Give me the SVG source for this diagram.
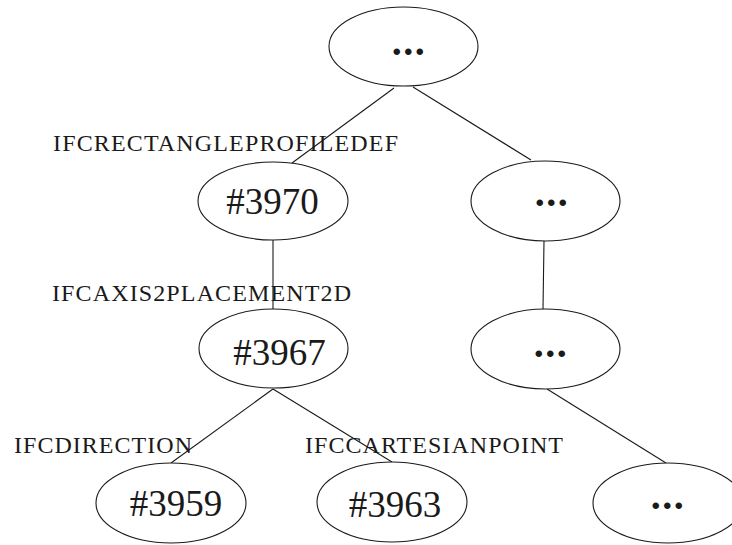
<svg xmlns="http://www.w3.org/2000/svg" width="732" height="545" viewBox="0 0 732 545">
  <style>
    .node ellipse { fill: #ffffff; stroke: #1a1a1a; stroke-width: 1.1; }
    .edges line { stroke: #1a1a1a; stroke-width: 1.1; }
    .id { font-family: "Liberation Serif", "Times New Roman", serif; font-size: 37px; fill: #1a1a1a; }
    .dots { font-family: "Liberation Serif", "Times New Roman", serif; font-size: 40px; font-weight: bold; fill: #1a1a1a; letter-spacing: 1.5px; }
    .label { font-family: "Liberation Serif", "Times New Roman", serif; font-size: 24px; fill: #1a1a1a; }
  </style>
  <rect width="732" height="545" fill="#ffffff"/>

  <!-- connectors -->
  <g id="edges" class="edges">
    <line x1="394" y1="88" x2="292" y2="163"/>
    <line x1="413" y1="87" x2="531" y2="160"/>
    <line x1="273" y1="240" x2="273" y2="310"/>
    <line x1="544" y1="241" x2="543" y2="309"/>
    <line x1="273" y1="389" x2="171" y2="463"/>
    <line x1="273" y1="389" x2="392" y2="462"/>
    <line x1="547" y1="389" x2="666" y2="463"/>
  </g>

  <!-- entity type labels -->
  <g id="labels">
    <text class="label" x="53" y="151" textLength="345" lengthAdjust="spacing">IFCRECTANGLEPROFILEDEF</text>
    <text class="label" x="52" y="301" textLength="299" lengthAdjust="spacing">IFCAXIS2PLACEMENT2D</text>
    <text class="label" x="14" y="453" textLength="178" lengthAdjust="spacing">IFCDIRECTION</text>
    <text class="label" x="305" y="453" textLength="258" lengthAdjust="spacing">IFCCARTESIANPOINT</text>
  </g>

  <!-- nodes -->
  <g id="node-root" class="node">
    <ellipse cx="403.5" cy="46.5" rx="74.5" ry="39.5"/>
    <text class="dots" x="409" y="55" text-anchor="middle">...</text>
  </g>
  <g id="node-3970" class="node">
    <ellipse cx="273" cy="201" rx="75" ry="39"/>
    <text class="id" x="272.5" y="214" text-anchor="middle">#3970</text>
  </g>
  <g id="node-right-1" class="node">
    <ellipse cx="545.5" cy="201" rx="74.5" ry="40"/>
    <text class="dots" x="552" y="206" text-anchor="middle">...</text>
  </g>
  <g id="node-3967" class="node">
    <ellipse cx="273.5" cy="348.5" rx="74.5" ry="39.5"/>
    <text class="id" x="279.5" y="365" text-anchor="middle">#3967</text>
  </g>
  <g id="node-right-2" class="node">
    <ellipse cx="545.5" cy="349" rx="74.5" ry="40"/>
    <text class="dots" x="551" y="357" text-anchor="middle">...</text>
  </g>
  <g id="node-3959" class="node">
    <ellipse cx="171" cy="503" rx="75" ry="40"/>
    <text class="id" x="176" y="516" text-anchor="middle">#3959</text>
  </g>
  <g id="node-3963" class="node">
    <ellipse cx="392" cy="502" rx="75" ry="40"/>
    <text class="id" x="395" y="517" text-anchor="middle">#3963</text>
  </g>
  <g id="node-right-3" class="node">
    <ellipse cx="668" cy="503" rx="75" ry="40"/>
    <text class="dots" x="668" y="509" text-anchor="middle">...</text>
  </g>
</svg>
